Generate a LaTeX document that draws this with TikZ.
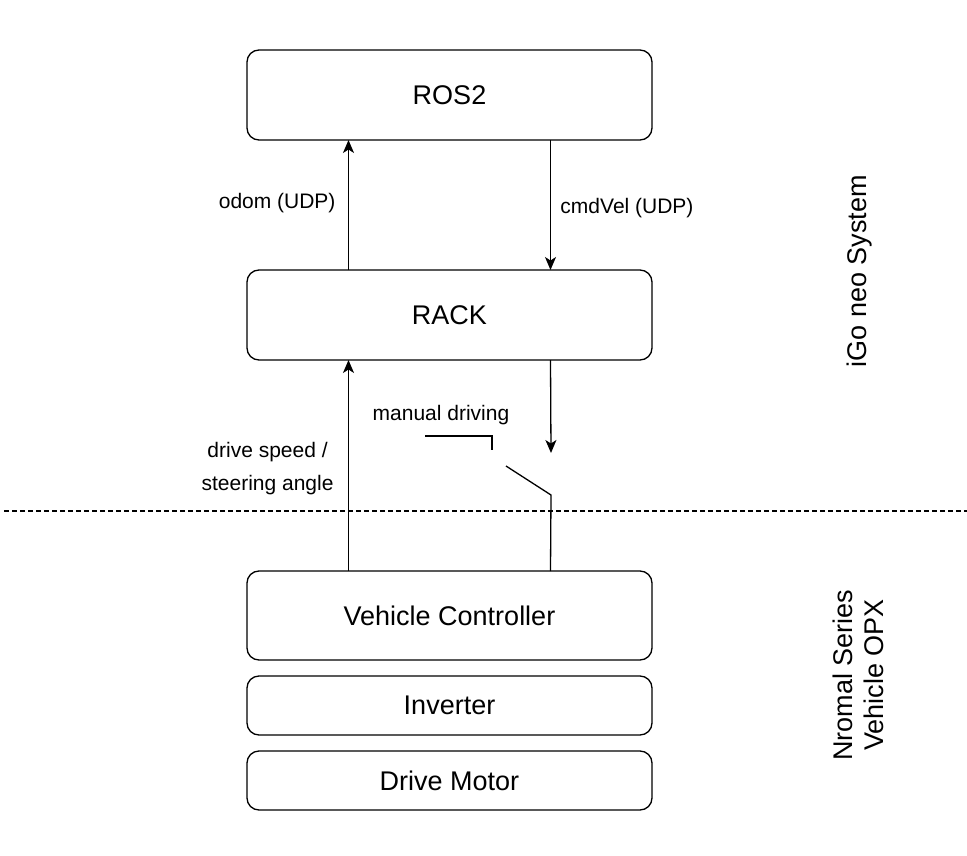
\documentclass[tikz,border=0pt]{standalone}
\usepackage{fontspec}
\setmainfont{Liberation Sans}
\usetikzlibrary{positioning,arrows.meta}
\tikzset{
  block/.style={draw,rounded corners=12pt,outer sep=0pt,minimum width=405pt,minimum height=90pt,font=\fontsize{27}{31}\selectfont},
  lbl/.style={font=\fontsize{21}{33}\selectfont,align=center},
  side/.style={rotate=90,align=center,font=\fontsize{27}{31}\selectfont}
}
\begin{document}
\begin{tikzpicture}[x=1pt,y=-1pt,node distance=130pt,auto,>={Stealth[length=13pt,width=11pt,inset=3.5pt]},line width=1.3pt]
\useasboundingbox (0,0) rectangle (967,856);
\node (ROS) [block] at (449.5,95) {ROS2};
\node (RACK) [block,below=of ROS] {RACK};
\node (VC) [block,below=211pt of RACK,minimum height=89pt] {Vehicle Controller};
\node (INV) [block,below=16pt of VC,minimum height=59pt] {Inverter};
\node (DM) [block,below=16pt of INV,minimum height=59pt] {Drive Motor};
\path[->] ([xshift=-101pt]RACK.north) edge node[lbl,left=9pt,yshift=2pt] {odom (UDP)} ([xshift=-101pt]ROS.south);
\path[->] ([xshift=101pt]ROS.south) edge node[lbl,right=6pt,yshift=-3pt] {cmdVel (UDP)} ([xshift=101pt]RACK.north);
\path[->] ([xshift=-101pt]VC.north) edge node[lbl,left=11pt,yshift=-3pt] {drive speed /\\steering angle} ([xshift=-101pt]RACK.south);
% manual driving switch
\coordinate (SWin) at (551,453);
\coordinate (SWpivot) at (551,495);
\coordinate (SWend) at (506,466);
\coordinate (MDa) at (425,436);
\coordinate (MDb) at (492,436);
\coordinate (MDc) at (492,450);
\draw[->] ([xshift=101pt]RACK.south) -- (SWin);
\draw ([xshift=101pt]VC.north) -- (SWpivot) -- (SWend);
\draw (MDa) -- (MDb) -- (MDc);
\node (MD) [lbl] at (441,415) {manual driving};
% border between the systems
\coordinate (SepL) at (4,511);
\coordinate (SepR) at (967,511);
\draw[dash pattern=on 5pt off 3pt] (SepL) -- (SepR);
\node (IGO) [side] at (860,271) {iGo neo System};
\node (OPX) [side] at (858,675) {Nromal Series\\Vehicle OPX};
\end{tikzpicture}
\end{document}
